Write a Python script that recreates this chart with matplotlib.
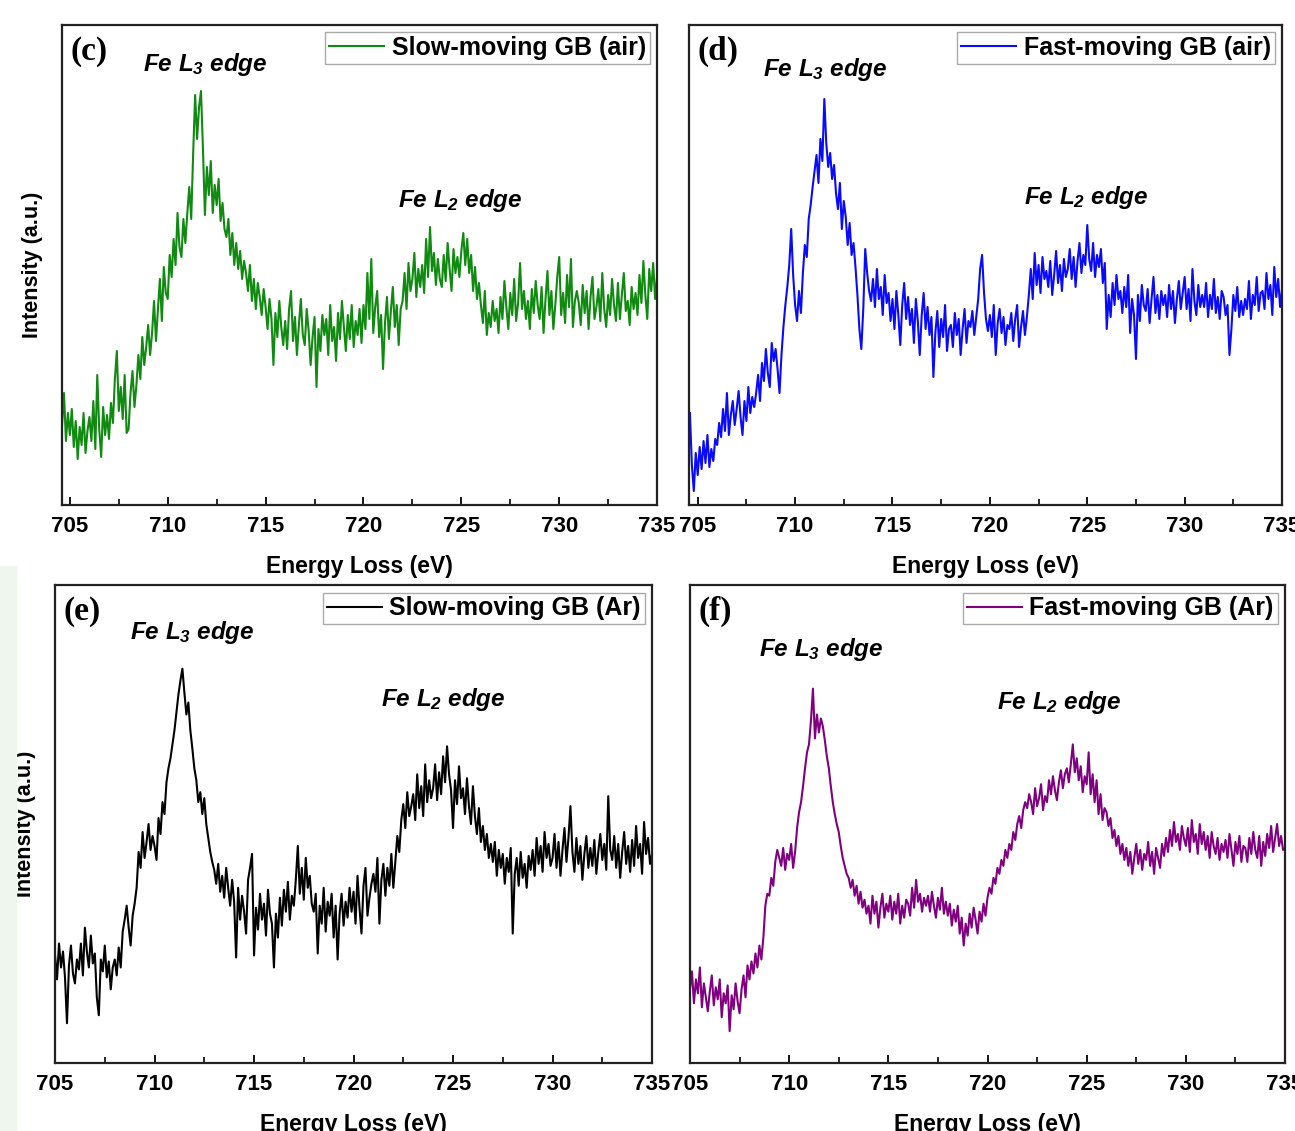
import numpy as np
import matplotlib
matplotlib.use('Agg')
import matplotlib.pyplot as plt
from matplotlib.ticker import MultipleLocator

plt.rcParams['font.family'] = ['Liberation Sans', 'DejaVu Sans']
plt.rcParams['mathtext.fontset'] = 'custom'
plt.rcParams['mathtext.it'] = 'Liberation Sans:bold:italic'
plt.rcParams['mathtext.rm'] = 'Liberation Sans:bold:italic'
plt.rcParams['mathtext.bf'] = 'Liberation Sans:bold:italic'

slow_air_start = 704.6
slow_air = [80, 112, 64, 92,
            70, 96, 58, 84, 46, 78, 60, 92, 52, 74,
            88, 64, 104, 56, 130, 76, 48, 98, 70, 90,
            66, 102, 82, 126, 154, 94, 118, 86, 130, 72,
            76, 112, 134, 98, 120, 150, 126, 168, 140, 158,
            180, 150, 172, 204, 164, 196, 226, 184, 238, 212,
            206, 250, 228, 266, 240, 292, 258, 248, 286, 262,
            292, 318, 286, 352, 410, 366, 398, 414, 356, 290,
            338, 310, 344, 292, 320, 300, 326, 284, 302, 276,
            268, 286, 250, 272, 240, 262, 236, 254, 226, 244,
            232, 214, 240, 204, 226, 196, 222, 208, 190, 216,
            198, 176, 206, 186, 140, 192, 168, 204, 178, 160,
            184, 156, 196, 214, 164, 188, 150, 180, 206, 170,
            160, 196, 174, 140, 168, 188, 118, 176, 154, 190,
            170, 186, 150, 200, 164, 178, 144, 192, 166, 204,
            178, 154, 190, 166, 200, 158, 184, 170, 196, 162,
            200, 176, 232, 186, 246, 172, 198, 214, 168, 190,
            136, 182, 208, 166, 194, 218, 178, 200, 160, 196,
            204, 232, 196, 242, 214, 226, 252, 208, 236, 218,
            240, 212, 266, 228, 278, 234, 252, 220, 246, 226,
            218, 250, 224, 262, 236, 214, 256, 232, 248, 228,
            254, 272, 240, 266, 232, 250, 214, 238, 206, 222,
            200, 182, 214, 170, 192, 178, 204, 184, 196, 172,
            208, 186, 224, 198, 176, 212, 190, 226, 184, 202,
            242, 196, 214, 186, 204, 176, 216, 192, 224, 200,
            186, 218, 172, 206, 234, 190, 214, 176, 200, 228,
            248, 190, 212, 182, 230, 198, 246, 178, 204, 214,
            202, 180, 220, 192, 214, 176, 208, 228, 186, 198,
            216, 184, 232, 196, 178, 210, 190, 226, 200, 184,
            222, 186, 210, 232, 194, 204, 180, 218, 196, 212,
            190, 230, 202, 244, 210, 186, 236, 214, 242, 206,
            228]

fast_air_start = 704.6
fast_air = [92, 40, 14, 52,
            30, 58, 36, 64, 42, 70, 38, 56, 44, 66,
            60, 82, 68, 96, 74, 112, 70, 90, 104, 80,
            96, 114, 88, 70, 104, 84, 118, 92, 108, 98,
            112, 130, 104, 142, 124, 156, 132, 118, 162, 144,
            156, 136, 112, 150, 178, 200, 218, 240, 276, 230,
            200, 184, 214, 192, 232, 260, 248, 286, 300, 318,
            334, 350, 322, 366, 344, 406, 362, 338, 352, 326,
            340, 312, 296, 322, 276, 304, 288, 260, 282, 250,
            262, 238, 210, 176, 156, 196, 256, 232, 214, 204,
            226, 198, 236, 206, 218, 190, 230, 202, 212, 184,
            206, 176, 214, 190, 160, 200, 222, 186, 208, 180,
            196, 162, 206, 184, 150, 190, 212, 176, 198, 170,
            188, 128, 172, 194, 158, 186, 168, 200, 154, 176,
            180, 158, 192, 170, 186, 150, 176, 196, 162, 184,
            178, 194, 170, 188, 206, 236, 250, 212, 186, 174,
            190, 168, 200, 150, 182, 196, 172, 188, 160, 180,
            176, 192, 164, 186, 200, 158, 178, 194, 170, 188,
            210, 236, 206, 252, 220, 240, 212, 248, 226, 234,
            218, 244, 210, 230, 254, 222, 240, 214, 246, 228,
            236, 256, 226, 248, 218, 244, 262, 232, 250, 240,
            280, 246, 234, 262, 228, 250, 238, 256, 222, 242,
            176, 210, 188, 222, 200, 230, 206, 214, 192, 218,
            198, 230, 172, 206, 190, 146, 210, 184, 220, 200,
            194, 216, 182, 206, 228, 192, 210, 186, 214, 200,
            210, 188, 220, 196, 214, 182, 206, 224, 196, 212,
            228, 196, 216, 184, 236, 204, 190, 220, 198, 210,
            198, 222, 188, 210, 196, 226, 192, 208, 186, 214,
            208, 190, 200, 150, 176, 210, 194, 218, 188, 204,
            190, 206, 196, 224, 186, 210, 200, 228, 194, 212,
            214, 196, 232, 206, 220, 190, 238, 208, 226, 198,
            216]

slow_ar_start = 705.0
slow_ar = [108, 84, 120, 96, 112, 86, 40, 98, 118, 90,
           80, 104, 94, 120, 88, 136, 112, 96, 128, 100,
           110, 66, 48, 104, 92, 118, 86, 102, 74, 96,
           104, 88, 116, 96, 132, 144, 158, 136, 118, 148,
           160, 176, 212, 196, 232, 206, 222, 240, 214, 228,
           218, 204, 246, 230, 262, 250, 282, 296, 306, 320,
           334, 352, 370, 384, 396, 372, 350, 362, 334, 316,
           296, 284, 262, 272, 250, 266, 240, 226, 212, 202,
           194, 180, 200, 172, 188, 166, 196, 176, 158, 184,
           162, 106, 176, 144, 168, 152, 130, 184, 196, 210,
           108, 156, 134, 170, 144, 160, 128, 174, 150, 140,
           96, 150, 126, 166, 138, 174, 152, 182, 144, 168,
           158, 184, 218, 170, 196, 164, 206, 176, 188, 160,
           152, 170, 110, 158, 140, 176, 132, 162, 148, 170,
           126, 158, 104, 150, 170, 138, 162, 146, 176, 152,
           172, 140, 188, 156, 130, 178, 196, 148, 166, 180,
           190, 172, 206, 140, 184, 200, 168, 196, 178, 210,
           176, 202, 228, 212, 244, 260, 236, 272, 248, 258,
           270, 244, 290, 256, 278, 248, 300, 262, 284, 266,
           276, 300, 264, 292, 270, 308, 282, 318, 290, 274,
           236, 284, 260, 298, 266, 276, 250, 286, 258, 240,
           278, 248, 230, 256, 222, 238, 214, 230, 206, 220,
           202, 222, 188, 214, 196, 210, 180, 206, 192, 216,
           130, 190, 206, 178, 212, 186, 200, 176, 208, 194,
           214, 188, 226, 200, 218, 192, 232, 206, 220, 198,
           206, 230, 196, 222, 188, 214, 236, 202, 226, 258,
           212, 192, 226, 200, 218, 184, 210, 228, 196, 216,
           198, 224, 190, 212, 230, 204, 220, 194, 268, 214,
           204, 228, 196, 220, 186, 212, 232, 200, 218, 192,
           224, 198, 238, 206, 220, 190, 242, 210, 226, 200,
           210]

fast_ar_start = 705.0
fast_ar = [74, 92, 60, 84, 70, 96, 56, 80, 66, 52,
           72, 88, 58, 76, 64, 84, 46, 70, 60, 78,
           32, 68, 54, 80, 62, 50, 74, 88, 66, 98,
           84, 102, 90, 110, 96, 118, 104, 126, 158, 170,
           168, 186, 178, 202, 214, 206, 198, 216, 194, 210,
           204, 220, 196, 212, 236, 252, 262, 278, 296, 312,
           320, 344, 376, 326, 350, 332, 346, 338, 324, 308,
           296, 278, 262, 250, 240, 232, 218, 206, 198, 190,
           186, 176, 184, 168, 178, 160, 172, 156, 164, 150,
           158, 140, 168, 150, 162, 136, 156, 170, 146, 160,
           152, 168, 144, 162, 150, 170, 140, 158, 146, 164,
           160, 148, 176, 156, 184, 162, 170, 152, 166, 158,
           168, 152, 172, 158, 146, 166, 154, 176, 150, 162,
           148, 160, 138, 154, 142, 158, 130, 146, 118, 140,
           128, 150, 136, 156, 144, 130, 152, 142, 160, 148,
           166, 176, 170, 186, 180, 196, 190, 204, 198, 214,
           206, 220, 214, 232, 224, 240, 248, 236, 254, 262,
           256, 270, 262, 250, 276, 258, 266, 280, 254, 268,
           262, 284, 270, 288, 274, 264, 282, 294, 276, 290,
           296, 282, 300, 320, 292, 306, 284, 298, 272, 288,
           280, 312, 270, 290, 262, 284, 250, 270, 244, 256,
           252, 238, 246, 226, 234, 218, 228, 210, 220, 204,
           216, 198, 212, 190, 206, 220, 200, 214, 194, 210,
           204, 222, 198, 212, 190, 216, 206, 196, 220, 208,
           226, 212, 234, 218, 242, 222, 230, 214, 238, 226,
           218, 236, 212, 244, 222, 230, 210, 240, 220, 232,
           214, 228, 206, 232, 218, 210, 226, 204, 220, 212,
           224, 206, 230, 214, 198, 222, 210, 228, 202, 218,
           216, 202, 226, 210, 232, 214, 206, 228, 198, 222,
           208, 230, 216, 238, 212, 226, 240, 218, 228, 214,
           216]

panels = [
    # rect, start, values, color, label, tag, xlim, L3 pos, L2 pos, ylabel
    ([0.0479, 0.5535, 0.4595, 0.4244], slow_air_start, slow_air, '#108a10',
     'Slow-moving GB (air)', '(c)', (704.6, 735), (0.24, 0.917), (0.67, 0.635), True),
    ([0.5320, 0.5535, 0.4580, 0.4244], fast_air_start, fast_air, '#0a0aff',
     'Fast-moving GB (air)', '(d)', (704.55, 735), (0.23, 0.907), (0.67, 0.640), False),
    ([0.0425, 0.0601, 0.4610, 0.4226], slow_ar_start, slow_ar, 'black',
     'Slow-moving GB (Ar)', '(e)', (705, 735), (0.23, 0.900), (0.65, 0.760), True),
    ([0.5328, 0.0601, 0.4595, 0.4226], fast_ar_start, fast_ar, '#800080',
     'Fast-moving GB (Ar)', '(f)', (705, 735), (0.22, 0.866), (0.62, 0.755), False),
]

fig = plt.figure(figsize=(12.95, 11.31), dpi=100)
fig.patches.append(plt.Rectangle((0, 0), 0.012, 0.5, transform=fig.transFigure,
                                 color='#eef6ee', zorder=0))

for rect, start, vals, color, label, tag, xlim, l3, l2, ylab in panels:
    ax = fig.add_axes(rect)
    energy = start + 0.1 * np.arange(len(vals))
    ax.plot(energy, vals, color=color, lw=1.5, label=label)
    ax.set_xlim(*xlim)
    ax.set_ylim(0, 480)
    ax.set_yticks([])
    ax.xaxis.set_major_locator(MultipleLocator(5))
    ax.xaxis.set_minor_locator(MultipleLocator(2.5))
    ax.tick_params(axis='x', which='major', direction='in', length=6, width=1.3,
                   labelsize=16, pad=8)
    ax.tick_params(axis='x', which='minor', direction='in', length=4, width=1.2)
    for lab in ax.get_xticklabels():
        lab.set_fontweight('bold')
    for s in ax.spines.values():
        s.set_linewidth(1.6)
        s.set_color('#222222')
    ax.set_xlabel('Energy Loss (eV)', fontsize=16.5, fontweight='bold', labelpad=13)
    if ylab:
        ax.set_ylabel('Intensity (a.u.)', fontsize=15.5, fontweight='bold', labelpad=14)
    ax.text(0.014, 0.945, tag, transform=ax.transAxes, fontsize=24, fontweight='bold',
            family='Liberation Serif', va='center', ha='left')
    ax.text(l3[0], l3[1], r'Fe $L_3$ edge', transform=ax.transAxes, fontsize=17.5,
            fontweight='bold', fontstyle='italic', va='center', ha='center')
    ax.text(l2[0], l2[1], r'Fe $L_2$ edge', transform=ax.transAxes, fontsize=17.5,
            fontweight='bold', fontstyle='italic', va='center', ha='center')
    leg = ax.legend(loc='upper right', fancybox=False, framealpha=1, borderpad=0.15,
                    handlelength=2.2, handletextpad=0.3, borderaxespad=0.3,
                    prop={'weight': 'bold', 'size': 18})
    leg.get_frame().set_edgecolor('#aaaaaa')
    leg.get_frame().set_linewidth(1.0)

fig.savefig('out.png', dpi=100)
